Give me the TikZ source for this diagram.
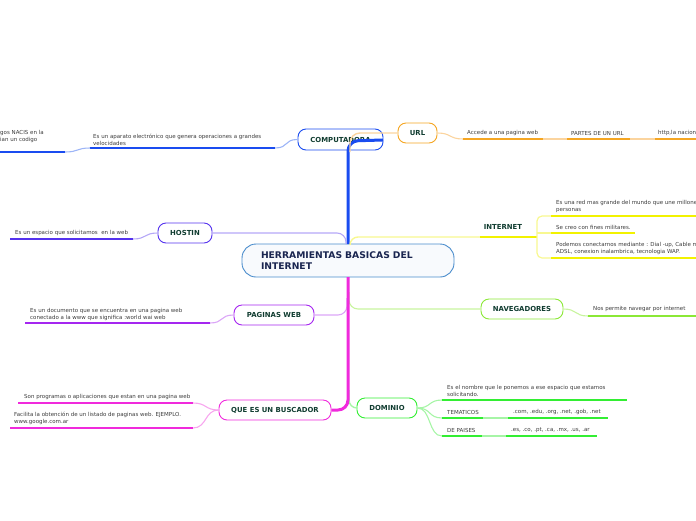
\documentclass[tikz,border=0pt]{standalone}
\usepackage{fontspec}
\setmainfont{DejaVu Sans}
\definecolor{txtdark}{HTML}{103C30}
\definecolor{txtnavy}{HTML}{1A2550}
\definecolor{txtgray}{HTML}{3C3C3C}
\definecolor{cblue}{HTML}{1A4CF0}
\definecolor{cblueL}{HTML}{9DB5F7}
\definecolor{corange}{HTML}{F5A623}
\definecolor{corangeL}{HTML}{FBD49E}
\definecolor{cyellow}{HTML}{F2F200}
\definecolor{cyellowL}{HTML}{F8F890}
\definecolor{chost}{HTML}{5533EE}
\definecolor{chostL}{HTML}{B5A8F7}
\definecolor{cpag}{HTML}{A526F0}
\definecolor{cpagL}{HTML}{DBA6F7}
\definecolor{cbus}{HTML}{F02ADC}
\definecolor{cbusL}{HTML}{F7A6EE}
\definecolor{cnav}{HTML}{8BE836}
\definecolor{cnavL}{HTML}{C8F49E}
\definecolor{cdom}{HTML}{33EE33}
\definecolor{cdomL}{HTML}{A6F5A6}
\definecolor{ccent}{HTML}{4A8CCC}
\tikzset{
  topic/.style={draw, rounded corners=8pt, line width=0.9pt, fill=white,
    font=\bfseries\fontsize{6.9}{8}\selectfont, text=txtdark, inner sep=0pt},
  small/.style={font=\fontsize{5.5}{7}\selectfont, text=txtgray, anchor=west,
    align=left, inner sep=0pt},
  uline/.style={line width=1.8pt},
  conn/.style={line width=1.1pt},
  trunk/.style={line width=3pt},
}
\begin{document}
\begin{tikzpicture}[x=1pt,y=-1pt]
\useasboundingbox (0,0) rectangle (696,520);
\clip (0,0) rectangle (696,520);

% ---------- central node
\node[draw=ccent, line width=0.9pt, rounded corners=14pt, fill=ccent!4,
  minimum width=212pt, minimum height=33pt, inner xsep=19pt, inner ysep=0pt,
  text width=174pt, align=left, text=txtnavy,
  font=\bfseries\fontsize{9.2}{11}\selectfont] (center) at (348,260.5)
  {HERRAMIENTAS BASICAS DEL\\INTERNET};

% ---------- topic nodes
\node[topic, draw=cblue, minimum width=85pt, minimum height=21pt] (comp) at (340.5,139.5) {COMPUTADORA};
\node[topic, draw=corange, minimum width=39pt, minimum height=20pt] (url) at (417.5,133) {URL};
\node[topic, draw=chost, minimum width=54pt, minimum height=20pt] (host) at (185,233) {HOSTIN};
\node[topic, draw=cpag, minimum width=80pt, minimum height=20pt] (pag) at (274,315) {PAGINAS WEB};
\node[topic, draw=cnav, minimum width=82pt, minimum height=20pt] (nav) at (522,309) {NAVEGADORES};
\node[topic, draw=cbus, minimum width=112pt, minimum height=20pt] (bus) at (275,410) {QUE ES UN BUSCADOR};
\node[topic, draw=cdom, minimum width=60pt, minimum height=20pt] (dom) at (387,408) {DOMINIO};
\node[font=\bfseries\fontsize{6.9}{8}\selectfont, text=txtdark, inner sep=0pt] (inet) at (503,227) {INTERNET};

% ---------- coordinates
\coordinate (cTop) at (348,244);
\coordinate (cBot) at (348,277);
\coordinate (compIn) at (383,140);
\coordinate (urlT) at (350,152);
\coordinate (inetA) at (480,237);
\coordinate (inetB) at (537,237);

% ---------- trunk connectors
\draw[cblue, trunk, rounded corners=10pt] (cTop) -- (348,141) -- (compIn);
\draw[corangeL, line width=1.4pt, rounded corners=10pt] (urlT) -- (350,133) -- (url.west);
\draw[cyellowL, line width=1.4pt, rounded corners=8pt] (350,244) -- (350,237) -- (inetA);
\draw[cyellow, uline] (inetA) -- (inetB);
\draw[chostL, conn, rounded corners=9pt] (346,244) -- (346,233) -- (host.east);
\draw[cpagL, conn, rounded corners=9pt] (347,298) -- (347,315) -- (pag.east);
\draw[cnavL, conn, rounded corners=9pt] (349,292) -- (349,309) -- (nav.west);
\draw[cdomL, line width=1.4pt, rounded corners=8pt] (349,390) -- (349,408) -- (dom.west);
\draw[cbus, trunk, rounded corners=10pt] (cBot) -- (348,410) -- (bus.east);

% ---------- COMPUTADORA children
\coordinate (c1a) at (90,148); \coordinate (c1b) at (275,148);
\coordinate (c2a) at (0,152);  \coordinate (c2b) at (65,152);
\draw[cblueL, conn] (comp.west) .. controls +(-14,0) and +(14,0) .. (c1b);
\draw[cblue, uline] (c1a) -- (c1b);
\draw[cblueL, conn] (c1a) .. controls +(-14,0) and +(14,0) .. (c2b);
\draw[cblue, uline] (c2a) -- (c2b);
\node[small] (t1) at (93,139.5) {Es un aparato electrónico que genera operaciones a grandes\\velocidades};
\node[small] (t2) at (0,136.5) {gos NACIS en la\\ian un codigo};

% ---------- URL children
\coordinate (u1a) at (463,139); \coordinate (u1b) at (543,139);
\coordinate (u2a) at (567,139); \coordinate (u2b) at (630,139);
\coordinate (u3a) at (655,139); \coordinate (u3b) at (696,139);
\draw[corangeL, conn] (url.east) .. controls +(14,0) and +(-14,0) .. (u1a);
\draw[corange, uline] (u1a) -- (u1b);
\draw[corangeL, uline] (u1b) -- (u2a);
\draw[corange, uline] (u2a) -- (u2b);
\draw[corangeL, uline] (u2b) -- (u3a);
\draw[corange, uline] (u3a) -- (u3b);
\node[small] (t3) at (467,133) {Accede a una pagina web};
\node[small] (t4) at (571,133) {PARTES DE UN URL};
\node[small] (t5) at (658,133) {http,la nacion};

% ---------- INTERNET children
\coordinate (i1a) at (551,216); \coordinate (i1b) at (696,216);
\coordinate (i2a) at (551,233); \coordinate (i2b) at (635,233);
\coordinate (i3a) at (551,258); \coordinate (i3b) at (696,258);
\draw[cyellowL, line width=1.2pt, rounded corners=5pt] (inetB) |- (i1a);
\draw[cyellowL, line width=1.2pt, rounded corners=5pt] (inetB) |- (i3a);
\draw[cyellowL, line width=1.2pt] (537,233) -- (i2a);
\draw[cyellow, uline] (i1a) -- (i1b);
\draw[cyellow, uline] (i2a) -- (i2b);
\draw[cyellow, uline] (i3a) -- (i3b);
\node[small] (t6) at (556,206) {Es una red mas grande del mundo que une millones de\\personas};
\node[small] (t7) at (556,227) {Se creo con fines militares.};
\node[small] (t8) at (556,248) {Podemos conectarnos mediante : Dial -up, Cable m\\ADSL, conexion inalambrica, tecnologia WAP.};

% ---------- HOSTIN child
\coordinate (h1a) at (10,239); \coordinate (h1b) at (133,239);
\draw[chostL, conn] (host.west) .. controls +(-14,0) and +(14,0) .. (h1b);
\draw[chost, uline] (h1a) -- (h1b);
\node[small] (t9) at (15,233) {Es un espacio que solicitamos~ en la web};

% ---------- PAGINAS WEB child
\coordinate (p1a) at (25,323); \coordinate (p1b) at (210,323);
\draw[cpagL, conn] (pag.west) .. controls +(-14,0) and +(14,0) .. (p1b);
\draw[cpag, uline] (p1a) -- (p1b);
\node[small] (t10) at (30,314.3) {Es un documento que se encuentra en una pagina web\\conectado a la www que significa :world wai web};

% ---------- NAVEGADORES child
\coordinate (n1a) at (588,316); \coordinate (n1b) at (696,316);
\draw[cnavL, conn] (nav.east) .. controls +(14,0) and +(-14,0) .. (n1a);
\draw[cnav, uline] (n1a) -- (n1b);
\node[small] (t11) at (593,309) {Nos permite navegar por internet};

% ---------- BUSCADOR children
\coordinate (b1a) at (18,403); \coordinate (b1b) at (193,403);
\coordinate (b2a) at (10,428); \coordinate (b2b) at (193,428);
\draw[cbusL, conn] (bus.west) .. controls +(-14,0) and +(14,0) .. (b1b);
\draw[cbusL, conn] (bus.west) .. controls +(-14,0) and +(14,0) .. (b2b);
\draw[cbus, uline] (b1a) -- (b1b);
\draw[cbus, uline] (b2a) -- (b2b);
\node[small] (t12) at (24,397) {Son programas o aplicaciones que estan en una pagina web};
\node[small] (t13) at (14,418.5) {Facilita la obtención de un listado de paginas web. EJEMPLO.\\www.google.com.ar};

% ---------- DOMINIO children
\coordinate (d1a) at (442,400); \coordinate (d1b) at (627,400);
\coordinate (d2a) at (442,418); \coordinate (d2b) at (483,418);
\coordinate (d2c) at (508,418); \coordinate (d2d) at (608,418);
\coordinate (d3a) at (442,436); \coordinate (d3b) at (482,436);
\coordinate (d3c) at (506,436); \coordinate (d3d) at (597,436);
\draw[cdomL, conn] (dom.east) .. controls +(14,0) and +(-14,0) .. (d1a);
\draw[cdomL, conn] (dom.east) .. controls +(14,0) and +(-14,0) .. (d2a);
\draw[cdomL, conn] (dom.east) .. controls +(14,0) and +(-14,0) .. (d3a);
\draw[cdom, uline] (d1a) -- (d1b);
\draw[cdom, uline] (d2a) -- (d2b);
\draw[cdomL, uline] (d2b) -- (d2c);
\draw[cdom, uline] (d2c) -- (d2d);
\draw[cdom, uline] (d3a) -- (d3b);
\draw[cdomL, uline] (d3b) -- (d3c);
\draw[cdom, uline] (d3c) -- (d3d);
\node[small] (t14) at (447,390.5) {Es el nombre que le ponemos a ese espacio que estamos\\solicitando.};
\node[small] (t15) at (447,412) {TEMATICOS};
\node[small] (t16) at (513,412) {.com, .edu, .org, .net, .gob, .net};
\node[small] (t17) at (447,430) {DE PAISES};
\node[small] (t18) at (511,430) {.es, .co, .pt, .ca, .mx, .us, .ar};
\end{tikzpicture}
\end{document}
